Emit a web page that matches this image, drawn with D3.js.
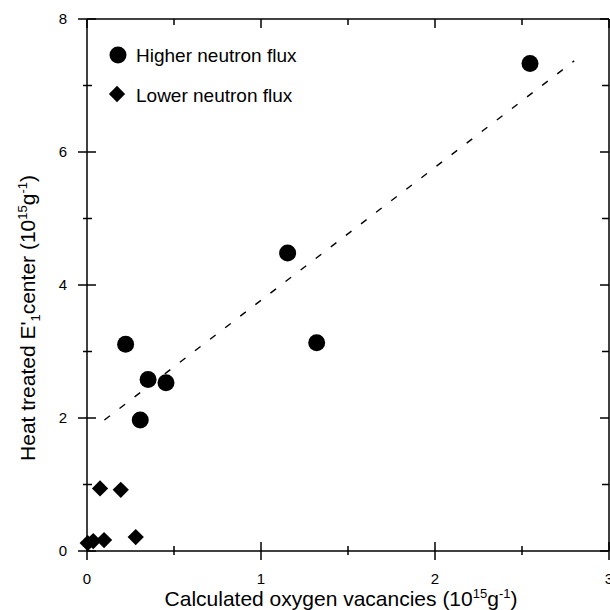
<!DOCTYPE html>
<html lang="en">
<head>
    <meta charset="UTF-8">
    <title>Heat treated E'1 center vs oxygen vacancies</title>
    <script src="https://d3js.org/d3.v7.min.js"></script>
    <style>
        body { margin: 0; background: #fff; }
        text { font-family: "Liberation Sans", Arial, sans-serif; fill: #000; }
    </style>
</head>
<body>
    <div id="chart"></div>

    <script>
        // Datos
        const highX = [0.222, 0.351, 0.454, 0.306, 1.153, 1.32, 2.546];
        const highY = [3.11, 2.58, 2.53, 1.97, 4.48, 3.13, 7.33];
        const lowX = [0.075, 0.194, 0.28, 0.098, 0.036, 0.004];
        const lowY = [0.94, 0.92, 0.21, 0.165, 0.15, 0.12];
        const fitX = [0.1, 2.8];
        const fitY = [1.97, 7.37];
        const xTicks = [0, 1, 2, 3];
        const yTicks = [0, 2, 4, 6, 8];
        const xMinor = [0.5, 1.5, 2.5];
        const yMinor = [1, 3, 5, 7];

        const W = 610, H = 610;
        const svg = d3.select("#chart").append("svg")
            .attr("width", W)
            .attr("height", H);

        // Escalas
        const x = d3.scaleLinear().domain([0, 3]).range([87, 609]);
        const y = d3.scaleLinear().domain([0, 8]).range([551, 19]);

        // Ejes: lineas del marco
        const frame = svg.append("g").attr("stroke", "#000").attr("stroke-width", 1.5);
        frame.append("line").attr("x1", x(0)).attr("x2", x(3)).attr("y1", y(0)).attr("y2", y(0));
        frame.append("line").attr("x1", x(0)).attr("x2", x(3)).attr("y1", y(8)).attr("y2", y(8));
        frame.append("line").attr("x1", x(0)).attr("x2", x(0)).attr("y1", y(0)).attr("y2", y(8));
        frame.append("line").attr("x1", x(3)).attr("x2", x(3)).attr("y1", y(0)).attr("y2", y(8));

        // Marcas abajo / izquierda (cruzan el eje)
        xTicks.forEach(t => frame.append("line").attr("x1", x(t)).attr("x2", x(t)).attr("y1", y(0) - 9).attr("y2", y(0) + 9));
        xMinor.forEach(t => frame.append("line").attr("x1", x(t)).attr("x2", x(t)).attr("y1", y(0) - 5).attr("y2", y(0) + 4));
        yTicks.forEach(t => frame.append("line").attr("y1", y(t)).attr("y2", y(t)).attr("x1", x(0) - 9).attr("x2", x(0) + 9));
        yMinor.forEach(t => frame.append("line").attr("y1", y(t)).attr("y2", y(t)).attr("x1", x(0) - 4).attr("x2", x(0) + 5));

        // Marcas arriba / derecha (hacia dentro)
        xTicks.forEach(t => frame.append("line").attr("x1", x(t)).attr("x2", x(t)).attr("y1", y(8)).attr("y2", y(8) + 9));
        xMinor.forEach(t => frame.append("line").attr("x1", x(t)).attr("x2", x(t)).attr("y1", y(8)).attr("y2", y(8) + 6));
        yTicks.forEach(t => frame.append("line").attr("y1", y(t)).attr("y2", y(t)).attr("x1", x(3) - 9).attr("x2", x(3)));
        yMinor.forEach(t => frame.append("line").attr("y1", y(t)).attr("y2", y(t)).attr("x1", x(3) - 7).attr("x2", x(3)));

        // Etiquetas de las marcas
        svg.selectAll(".xlab").data(xTicks).enter().append("text")
            .attr("x", d => x(d)).attr("y", 584)
            .attr("text-anchor", "middle").style("font-size", "15px")
            .text(d => d);
        svg.selectAll(".ylab").data(yTicks).enter().append("text")
            .attr("x", x(0) - 20).attr("y", d => y(d) + 5)
            .attr("text-anchor", "end").style("font-size", "15px")
            .text(d => d);

        // Titulos de los ejes
        const xt = svg.append("text")
            .attr("x", 341).attr("y", 606)
            .attr("text-anchor", "middle").style("font-size", "21px");
        xt.append("tspan").text("Calculated oxygen vacancies (10");
        xt.append("tspan").attr("dy", -8).style("font-size", "13px").text("15");
        xt.append("tspan").attr("dy", 8).text("g");
        xt.append("tspan").attr("dy", -8).style("font-size", "13px").text("-1");
        xt.append("tspan").attr("dy", 8).text(")");

        const yt = svg.append("text")
            .attr("transform", "translate(35,318) rotate(-90)")
            .attr("text-anchor", "middle").style("font-size", "21px");
        yt.append("tspan").text("Heat treated E'");
        yt.append("tspan").attr("dy", 5).style("font-size", "13px").text("1");
        yt.append("tspan").attr("dy", -5).text("center (10");
        yt.append("tspan").attr("dy", -8).style("font-size", "13px").text("15");
        yt.append("tspan").attr("dy", 8).text("g");
        yt.append("tspan").attr("dy", -8).style("font-size", "13px").text("-1");
        yt.append("tspan").attr("dy", 8).text(")");

        // Linea de ajuste
        svg.append("path")
            .datum(fitX.map((d, i) => ({ x: d, y: fitY[i] })))
            .attr("d", d3.line().x(d => x(d.x)).y(d => y(d.y)))
            .attr("fill", "none").attr("stroke", "#000")
            .attr("stroke-width", 1.4).attr("stroke-dasharray", "7,12");

        // Puntos
        const circle = d3.symbol().type(d3.symbolCircle).size(Math.PI * 8.5 * 8.5);
        const diamond = d3.symbol().type(d3.symbolSquare).size(11.5 * 11.5);

        svg.selectAll(".low").data(lowX.map((d, i) => ({ x: d, y: lowY[i] }))).enter()
            .append("path").attr("class", "low")
            .attr("d", diamond)
            .attr("transform", d => `translate(${x(d.x)},${y(d.y)}) rotate(45)`)
            .attr("fill", "#000");

        svg.selectAll(".high").data(highX.map((d, i) => ({ x: d, y: highY[i] }))).enter()
            .append("path").attr("class", "high")
            .attr("d", circle)
            .attr("transform", d => `translate(${x(d.x)},${y(d.y)})`)
            .attr("fill", "#000");

        // Leyenda
        svg.append("path").attr("d", circle).attr("transform", "translate(118,55)").attr("fill", "#000");
        svg.append("path").attr("d", diamond).attr("transform", "translate(117,94) rotate(45)").attr("fill", "#000");
        svg.append("text").attr("x", 136).attr("y", 62).style("font-size", "19px").text("Higher neutron flux");
        svg.append("text").attr("x", 136).attr("y", 102).style("font-size", "19px").text("Lower neutron flux");
    </script>
</body>
</html>
